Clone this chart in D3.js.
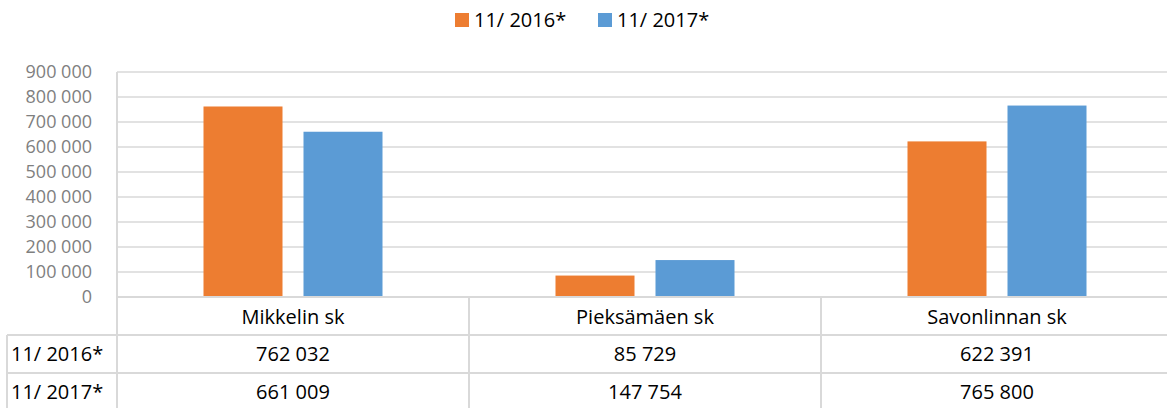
<!DOCTYPE html>
<html>
<head>
<meta charset="utf-8">
<script src="https://cdn.jsdelivr.net/npm/d3@7"></script>
<style>
  body { margin: 0; background: #fff; }
  svg { display: block; font-family: "Open Sans", sans-serif; }
</style>
</head>
<body>
<div id="chart"></div>
<script>
const categories = ["Mikkelin sk", "Pieksämäen sk", "Savonlinnan sk"];
const seriesNames = ["11/ 2016*", "11/ 2017*"];
const values2016 = [762032, 85729, 622391];
const values2017 = [661009, 147754, 765800];
const yTicks = [0, 100000, 200000, 300000, 400000, 500000, 600000, 700000, 800000, 900000];
const colors = ["#ED7D31", "#5B9BD5"];

const width = 1167, height = 408;
const plotLeft = 117, plotRight = 1173, plotTop = 72, plotBottom = 297;
const rowY = [297, 335, 373, 411];
const gridColor = "#d9d9d9";

const svg = d3.select("#chart").append("svg")
    .attr("width", width)
    .attr("height", height);

const x0 = d3.scaleBand()
    .domain(categories)
    .range([plotLeft, plotRight]);

const x1 = d3.scaleBand()
    .domain(seriesNames)
    .range([0, x0.bandwidth()])
    .paddingInner(0.21)
    .paddingOuter(0.865);

const y = d3.scaleLinear()
    .domain([0, 900000])
    .range([plotBottom, plotTop]);

const fmt = v => d3.format(",")(v).replace(/,/g, " ");

// gridlines
svg.append("g")
    .selectAll("line")
    .data(yTicks)
    .join("line")
    .attr("x1", plotLeft)
    .attr("x2", plotRight)
    .attr("y1", d => y(d))
    .attr("y2", d => y(d))
    .attr("stroke", gridColor)
    .attr("stroke-width", 1.5);

// y labels
svg.append("g")
    .selectAll("text")
    .data(yTicks)
    .join("text")
    .attr("x", 92)
    .attr("y", d => y(d))
    .attr("dy", "0.36em")
    .attr("text-anchor", "end")
    .attr("font-size", 18)
    .attr("fill", "#7f7f7f")
    .text(d => fmt(d));

// bars
const series = [values2016, values2017];
const barData = [];
categories.forEach((c, i) => {
    seriesNames.forEach((s, j) => {
        barData.push({cat: c, name: s, value: series[j][i], color: colors[j]});
    });
});

svg.append("g")
    .selectAll("rect")
    .data(barData)
    .join("rect")
    .attr("x", d => x0(d.cat) + x1(d.name))
    .attr("width", x1.bandwidth())
    .attr("y", d => y(d.value))
    .attr("height", d => y(0) - y(d.value))
    .attr("fill", d => d.color);

// data table lines
const table = svg.append("g");
table.selectAll("line.h")
    .data(rowY.slice(1, 3))
    .join("line")
    .attr("x1", 7)
    .attr("x2", plotRight)
    .attr("y1", d => d)
    .attr("y2", d => d)
    .attr("stroke", gridColor)
    .attr("stroke-width", 2);

table.append("line")
    .attr("x1", plotLeft).attr("x2", plotRight)
    .attr("y1", plotBottom).attr("y2", plotBottom)
    .attr("stroke", gridColor).attr("stroke-width", 2);

table.append("line")
    .attr("x1", plotLeft).attr("x2", plotLeft)
    .attr("y1", plotTop).attr("y2", height)
    .attr("stroke", gridColor).attr("stroke-width", 2);

table.append("line")
    .attr("x1", 7).attr("x2", 7)
    .attr("y1", rowY[1]).attr("y2", height)
    .attr("stroke", gridColor).attr("stroke-width", 2);

table.selectAll("line.v")
    .data(categories.slice(1))
    .join("line")
    .attr("x1", d => x0(d))
    .attr("x2", d => x0(d))
    .attr("y1", plotBottom)
    .attr("y2", height)
    .attr("stroke", gridColor)
    .attr("stroke-width", 2);

// header
table.selectAll("text.cat")
    .data(categories)
    .join("text")
    .attr("x", d => x0(d) + x0.bandwidth() / 2)
    .attr("y", 324)
    .attr("text-anchor", "middle")
    .attr("font-size", 20)
    .attr("fill", "#000")
    .text(d => d);

// rows
const rowBase = [361, 399];
seriesNames.forEach((s, j) => {
    table.append("text")
        .attr("x", 11)
        .attr("y", rowBase[j])
        .attr("font-size", 20)
        .attr("fill", "#000")
        .text(s);
    table.append("g")
        .selectAll("text")
        .data(categories)
        .join("text")
        .attr("x", d => x0(d) + x0.bandwidth() / 2)
        .attr("y", rowBase[j])
        .attr("text-anchor", "middle")
        .attr("font-size", 20)
        .attr("fill", "#000")
        .text((d, i) => fmt(series[j][i]));
});

// legend
const legendX = [455, 598];
const legend = svg.append("g");
seriesNames.forEach((s, j) => {
    legend.append("rect")
        .attr("x", legendX[j])
        .attr("y", 13)
        .attr("width", 14)
        .attr("height", 14)
        .attr("fill", colors[j]);
    legend.append("text")
        .attr("x", legendX[j] + 19)
        .attr("y", 27)
        .attr("font-size", 20)
        .attr("fill", "#000")
        .text(s);
});
</script>
</body>
</html>
